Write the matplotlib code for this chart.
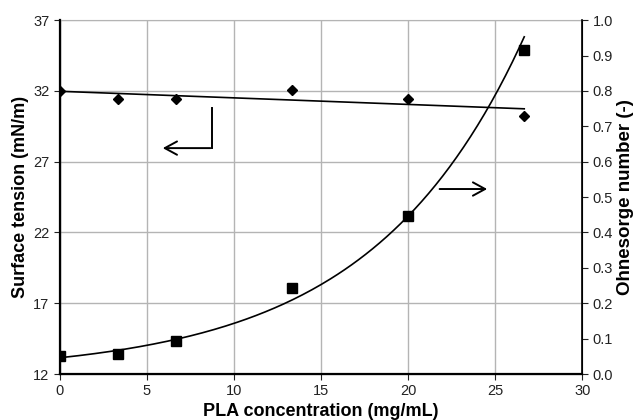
import numpy as np
import matplotlib
matplotlib.use("Agg")
import matplotlib.pyplot as plt

plt.rcParams['font.family'] = ['Liberation Sans', 'DejaVu Sans']

conc = [0, 3.33, 6.67, 13.33, 20, 26.67]
surface_tension = [32.0, 31.45, 31.45, 32.1, 31.4, 30.2]
ohnesorge = [0.052, 0.056, 0.093, 0.242, 0.447, 0.917]

x = np.array(conc)

# trendlines: linear for surface tension, exponential for Oh
st_fit = np.polyfit(x, surface_tension, 1)
oh_fit = np.polyfit(x, np.log(ohnesorge), 1)
xs = np.linspace(0, max(conc), 200)

fig = plt.figure(figsize=(6.37, 4.2), dpi=100)
ax = fig.add_axes([0.094, 0.1095, 0.82, 0.8425])
ax2 = ax.twinx()

ax.set_xlim(0, 30)
ax.set_ylim(12, 37)
ax2.set_ylim(0, 1.0)
ax.set_xticks(np.arange(0, 31, 5))
ax.set_yticks(np.arange(12, 38, 5))
ax2.set_yticks(np.arange(0, 1.01, 0.1))
ax2.set_yticklabels([f"{v:.1f}" for v in np.arange(0, 1.01, 0.1)])

ax.grid(True, color="#b4b4b4", linewidth=1.0)
ax.set_axisbelow(True)

for s in ["left", "bottom"]:
    ax.spines[s].set_linewidth(1.6)
ax.spines["top"].set_color("#b4b4b4")
ax2.spines["top"].set_visible(False)
ax2.spines["right"].set_linewidth(1.2)

ax.tick_params(direction="out", length=4, labelsize=10.5, colors="#222222")
ax2.tick_params(direction="out", length=4, labelsize=10.5, colors="#222222")

ax.plot(x, surface_tension, linestyle="none", marker="D", markersize=5.5,
        color="black")
ax.plot(xs, np.polyval(st_fit, xs), color="black", linewidth=1.2)

ax2.plot(x, ohnesorge, linestyle="none", marker="s", markersize=7.5,
         color="black")
ax2.plot(xs, np.exp(np.polyval(oh_fit, xs)), color="black", linewidth=1.2)

# arrows pointing to the axes
arrow = dict(arrowstyle="->,head_length=0.55,head_width=0.3", color="black",
             lw=1.4, mutation_scale=16)
ax.plot([8.74, 8.74], [30.8, 27.96], color="black", linewidth=1.4)
ax.annotate("", xy=(5.75, 27.96), xytext=(8.8, 27.96), arrowprops=arrow)
ax.annotate("", xy=(24.7, 25.07), xytext=(21.65, 25.07), arrowprops=arrow)

ax.set_xlabel("PLA concentration (mg/mL)", fontsize=13, fontweight="bold",
              labelpad=3)
ax.set_ylabel("Surface tension (mN/m)", fontsize=13, fontweight="bold",
              labelpad=3)
ax2.set_ylabel("Ohnesorge number (-)", fontsize=13.5, fontweight="bold",
               labelpad=3)

fig.savefig("out.png", dpi=100)
